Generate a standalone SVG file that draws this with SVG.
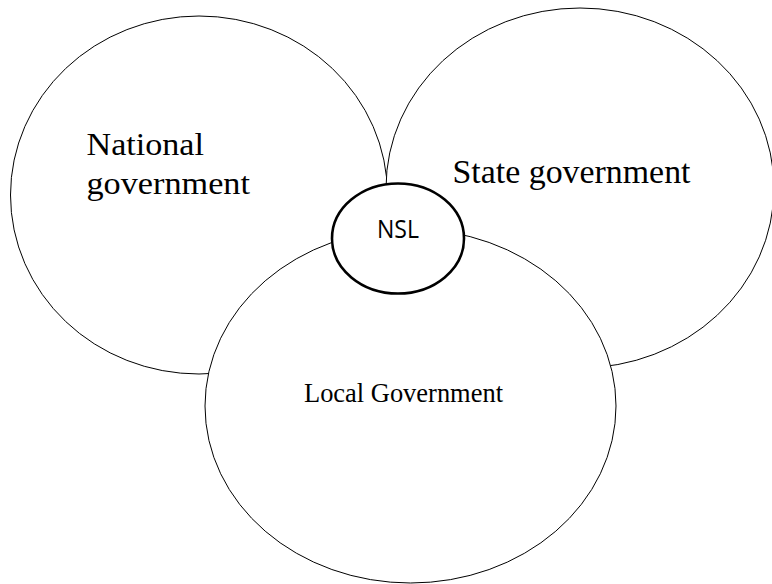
<svg xmlns="http://www.w3.org/2000/svg" width="772" height="584" viewBox="0 0 772 584">
<style>
.big{fill:#fff;stroke:#000;stroke-width:1}
.nsl{fill:#fff;stroke:#000;stroke-width:2.6}
.serif{font-family:"Liberation Serif","Times New Roman",serif;fill:#000}
.sans{font-family:"Open Sans","Liberation Sans",sans-serif;fill:#000}
</style>
<rect width="772" height="584" fill="#fff"/>
<g id="national">
<ellipse class="big" cx="199" cy="195" rx="188.5" ry="179"/>
<text class="serif" font-size="31" x="86.5" y="155" textLength="117.5" lengthAdjust="spacingAndGlyphs">National</text>
<text class="serif" font-size="31" x="86.5" y="194" textLength="163.5" lengthAdjust="spacingAndGlyphs">government</text>
</g>
<g id="state">
<ellipse class="big" cx="580" cy="188" rx="194" ry="180"/>
<text class="serif" font-size="33" x="452.5" y="183.3" textLength="238" lengthAdjust="spacingAndGlyphs">State government</text>
</g>
<g id="local">
<ellipse class="big" cx="410.5" cy="406" rx="205.5" ry="177"/>
<text class="serif" font-size="27" x="304" y="401.5" textLength="199" lengthAdjust="spacingAndGlyphs">Local Government</text>
</g>
<g id="nsl">
<ellipse class="nsl" cx="398" cy="238.5" rx="66" ry="55"/>
<text class="sans" font-size="25" x="377" y="238" textLength="42" lengthAdjust="spacingAndGlyphs">NSL</text>
</g>
<g id="connectors"/>
</svg>
